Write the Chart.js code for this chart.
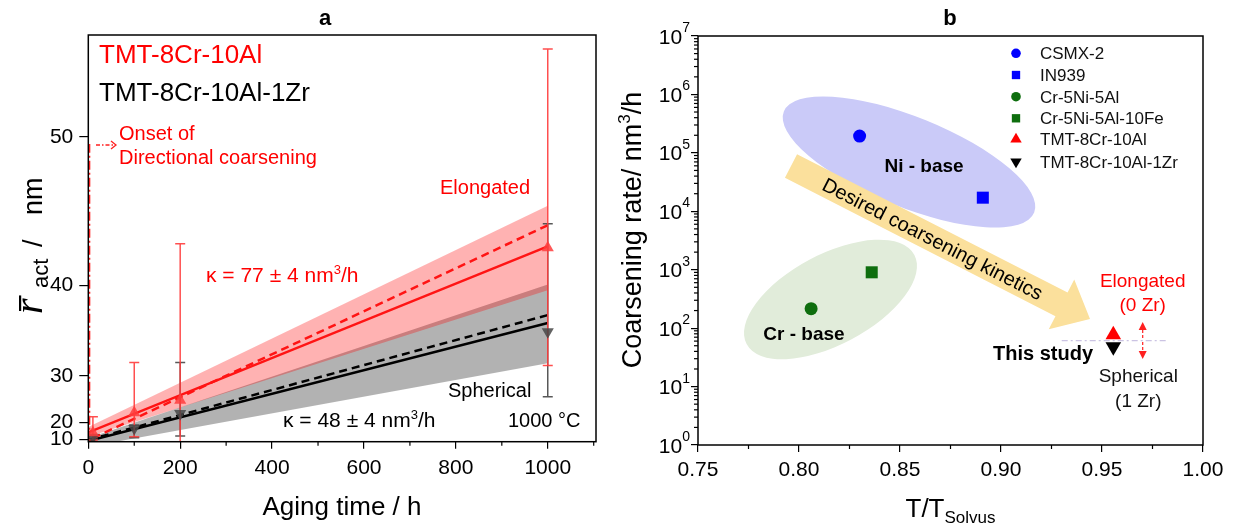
<!DOCTYPE html>
<html>
<head>
<meta charset="utf-8">
<script src="https://cdn.jsdelivr.net/npm/chart.js@4.4.1/dist/chart.umd.min.js"></script>
<style>
  body { margin: 0; background: #fff; }
  #wrap { position: relative; width: 1234px; height: 529px; }
  canvas { position: absolute; top: 0; }
  #left { left: 0; }
  #right { left: 617px; }
</style>
</head>
<body>
<div id="wrap">
  <canvas id="left" width="617" height="529"></canvas>
  <canvas id="right" width="617" height="529"></canvas>
</div>
<script>
// ---- panel a : mean radius vs aging time (axis is linear in r^3) ----
const agingTimes = [10, 100, 200, 1000];
const rAl = [15.4, 22.8, 25.7, 43.0];
const rAlLow = [8.9, 12.7, 0, 31.5];
const rAlHigh = [21.7, 31.9, 43.3, 54.4];
const rZr = [12.2, 17.6, 22.6, 35.6];
const rZrLow = [10.5, 11.8, 13.3, 26.4];
const rZrHigh = [13.5, 19.0, 31.9, 44.7];

const fitTimes = [0, 1000];
const fitAl = [15.6, 43.1];
const fitAlDashTimes = [10, 1000];
const fitAlDash = [11.4, 44.6];
const fitZr = [6.7, 36.5];
const fitZrDash = [8.9, 37.3];
const bandAlUpper = [18.2, 45.9];
const bandAlLower = [12.6, 39.6];
const bandZrUpper = [11.4, 40.1];
const bandZrLowerTimes = [0, 60, 1000];
const bandZrLower = [0, 0, 31.8];
const onsetTime = 2.2;
const onsetTop = 49.6;

const rTicks = [10, 20, 30, 40, 50];
const timeTicks = [0, 200, 400, 600, 800, 1000];
const timeMinor = [100, 300, 500, 700, 900, 1100];

// ---- panel b : coarsening rate vs T/Tsolvus ----
const alloys = ['CSMX-2', 'IN939', 'Cr-5Ni-5Al', 'Cr-5Ni-5Al-10Fe', 'TMT-8Cr-10Al', 'TMT-8Cr-10Al-1Zr'];
const tRatio = [0.830, 0.891, 0.806, 0.836, 0.9556, 0.9556];
const coarseningRate = [1.94e5, 1.71e4, 215, 903, 77, 48];
const ratioTicks = [0.75, 0.80, 0.85, 0.90, 0.95, 1.00];
const ratioMinor = [0.775, 0.825, 0.875, 0.925, 0.975];
const rateDecades = [0, 1, 2, 3, 4, 5, 6, 7];

const alloyLooks = [
  { color: '#0000ff', style: 'circle', radius: 6.5, rotation: 0, legendRadius: 4.8 },
  { color: '#0000ff', style: 'rect', radius: 8.5, rotation: 0, legendRadius: 5.9 },
  { color: '#0e6e0e', style: 'circle', radius: 6.5, rotation: 0, legendRadius: 4.8 },
  { color: '#0e6e0e', style: 'rect', radius: 8.5, rotation: 0, legendRadius: 5.9 },
  { color: '#ff0000', style: 'triangle', radius: 9, rotation: 0, legendRadius: 6.6 },
  { color: '#000000', style: 'triangle', radius: 9, rotation: 180, legendRadius: 6.6 }
];

const SANS = "'Liberation Sans', Arial, sans-serif";
Chart.defaults.font.family = SANS;
Chart.defaults.color = '#000';

const cube = v => v * v * v;
const toPoints = (xs, rs) => xs.map((x, i) => ({ x: x, y: cube(rs[i]) }));
const deg = a => a * Math.PI / 180;

function label(ctx, str, x, y, font, color, align) {
  ctx.font = font;
  ctx.fillStyle = color;
  ctx.textAlign = align || 'left';
  ctx.textBaseline = 'alphabetic';
  ctx.fillText(str, x, y);
}

// text with a superscript in the middle, starting at x
function supText(ctx, before, sup, after, x, y, size, color) {
  ctx.fillStyle = color;
  ctx.textAlign = 'left';
  ctx.textBaseline = 'alphabetic';
  ctx.font = size + 'px ' + SANS;
  ctx.fillText(before, x, y);
  let cx = x + ctx.measureText(before).width;
  ctx.font = Math.round(size * 0.62) + 'px ' + SANS;
  ctx.fillText(sup, cx, y - size * 0.4);
  cx += ctx.measureText(sup).width;
  ctx.font = size + 'px ' + SANS;
  ctx.fillText(after, cx, y);
  return cx + ctx.measureText(after).width - x;
}

function supWidth(ctx, before, sup, after, size) {
  ctx.font = size + 'px ' + SANS;
  let w = ctx.measureText(before).width + ctx.measureText(after).width;
  ctx.font = Math.round(size * 0.62) + 'px ' + SANS;
  return w + ctx.measureText(sup).width;
}

function marker(ctx, style, x, y, r, rotation, color) {
  ctx.save();
  ctx.fillStyle = color;
  ctx.beginPath();
  if (style === 'circle') {
    ctx.arc(x, y, r, 0, Math.PI * 2);
  } else if (style === 'rect') {
    const s = r * Math.SQRT1_2;
    ctx.rect(x - s, y - s, 2 * s, 2 * s);
  } else {
    let a = deg(rotation);
    ctx.moveTo(x + Math.sin(a) * r, y - Math.cos(a) * r);
    a += Math.PI * 2 / 3;
    ctx.lineTo(x + Math.sin(a) * r, y - Math.cos(a) * r);
    a += Math.PI * 2 / 3;
    ctx.lineTo(x + Math.sin(a) * r, y - Math.cos(a) * r);
    ctx.closePath();
  }
  ctx.fill();
  ctx.restore();
}

function drawErrorBars(chart, lows, highs, color) {
  const xs = chart.scales.x, ys = chart.scales.y, ctx = chart.ctx;
  ctx.strokeStyle = color;
  ctx.lineWidth = 1.5;
  agingTimes.forEach((t, i) => {
    const x = xs.getPixelForValue(t);
    const y1 = ys.getPixelForValue(cube(lows[i]));
    const y2 = ys.getPixelForValue(cube(highs[i]));
    ctx.beginPath();
    ctx.moveTo(x, y1); ctx.lineTo(x, y2);
    ctx.moveTo(x - 5, y1); ctx.lineTo(x + 5, y1);
    ctx.moveTo(x - 5, y2); ctx.lineTo(x + 5, y2);
    ctx.stroke();
  });
}

const panelA = {
  id: 'panelA',
  beforeDatasetDraw(chart, args) {
    // error bars go under the markers, over bands and fit lines
    if (chart.data.datasets[args.index].label !== 'TMT-8Cr-10Al-1Zr') return;
    const a = chart.chartArea, ctx = chart.ctx;
    ctx.save();
    ctx.beginPath();
    ctx.rect(a.left, a.top, a.right - a.left, a.bottom - a.top);
    ctx.clip();
    drawErrorBars(chart, rZrLow, rZrHigh, 'rgba(70,70,70,0.9)');
    drawErrorBars(chart, rAlLow, rAlHigh, 'rgba(255,60,60,0.9)');
    ctx.restore();
  },
  afterDraw(chart) {
    const a = chart.chartArea, ctx = chart.ctx;
    const xs = chart.scales.x;
    ctx.save();
    ctx.strokeStyle = '#000';
    ctx.lineWidth = 1.5;
    ctx.strokeRect(a.left, a.top, a.right - a.left, a.bottom - a.top);
    ctx.lineWidth = 1.2;
    timeMinor.forEach(t => {
      const px = xs.getPixelForValue(t);
      ctx.beginPath(); ctx.moveTo(px, a.bottom); ctx.lineTo(px, a.bottom + 4); ctx.stroke();
    });

    label(ctx, 'a', 325, 25, 'bold 22px ' + SANS, '#000', 'center');
    label(ctx, 'TMT-8Cr-10Al', 99, 63, '26px ' + SANS, '#ff0000');
    label(ctx, 'TMT-8Cr-10Al-1Zr', 99, 101, '26px ' + SANS, '#000');
    label(ctx, 'Onset of', 119, 140, '20px ' + SANS, '#ff0000');
    label(ctx, 'Directional coarsening', 119, 164, '20px ' + SANS, '#ff0000');
    label(ctx, 'Elongated', 440, 194, '20px ' + SANS, '#ff0000');
    label(ctx, 'Spherical', 448, 397, '20px ' + SANS, '#000');
    supText(ctx, '\u03ba = 77 \u00b1 4 nm', '3', '/h', 206, 282, 21, '#ff0000');
    supText(ctx, '\u03ba = 48 \u00b1 4 nm', '3', '/h', 283, 427, 21, '#000');
    label(ctx, '1000 \u00b0C', 508, 427, '20px ' + SANS, '#000');

    // dash-dot pointer to the onset line
    ctx.strokeStyle = '#ff2020';
    ctx.lineWidth = 1.3;
    ctx.setLineDash([4, 2, 1.5, 2]);
    ctx.beginPath(); ctx.moveTo(96, 145); ctx.lineTo(115, 145); ctx.stroke();
    ctx.setLineDash([]);
    ctx.beginPath(); ctx.moveTo(111, 141); ctx.lineTo(116, 145); ctx.lineTo(111, 149); ctx.stroke();

    // axis titles
    label(ctx, 'Aging time / h', 342, 515, '26px ' + SANS, '#000', 'center');
    ctx.translate(42, 314);
    ctx.rotate(-Math.PI / 2);
    ctx.fillStyle = '#000';
    ctx.textAlign = 'left';
    ctx.font = "italic 40px 'Liberation Serif', serif";
    ctx.fillText('r', 0, 0);
    const rw = ctx.measureText('r').width;
    ctx.fillRect(3, -23, rw, 2.2);
    ctx.font = '22px ' + SANS;
    ctx.fillText('act', 26, 6);
    ctx.font = '27px ' + SANS;
    ctx.fillText('/', 67, 0);
    ctx.fillText('nm', 99, 0);
    ctx.restore();
  }
};

const edge = { borderWidth: 0, borderColor: 'rgba(0,0,0,0)', pointRadius: 0 };

new Chart(document.getElementById('left'), {
  type: 'line',
  data: {
    datasets: [
      { label: 'TMT-8Cr-10Al', data: toPoints(agingTimes, rAl), showLine: false,
        pointStyle: 'triangle', pointRadius: 7, pointBorderWidth: 0,
        pointBackgroundColor: 'rgba(255,60,60,0.85)', backgroundColor: 'rgba(255,60,60,0.85)', order: 0 },
      { label: 'TMT-8Cr-10Al-1Zr', data: toPoints(agingTimes, rZr), showLine: false,
        pointStyle: 'triangle', pointRotation: 180, pointRadius: 7, pointBorderWidth: 0,
        pointBackgroundColor: 'rgba(70,70,70,0.85)', backgroundColor: 'rgba(70,70,70,0.85)', order: 0 },
      { label: 'fit Al', data: toPoints(fitTimes, fitAl), borderColor: '#ff1414', borderWidth: 2.5, pointRadius: 0, order: 1 },
      { label: 'fit Al dashed', data: toPoints(fitAlDashTimes, fitAlDash), borderColor: '#ff1414', borderWidth: 2.5,
        borderDash: [8, 5], pointRadius: 0, order: 1 },
      { label: 'fit Zr', data: toPoints(fitTimes, fitZr), borderColor: '#000', borderWidth: 2.5, pointRadius: 0, order: 1 },
      { label: 'fit Zr dashed', data: toPoints(fitTimes, fitZrDash), borderColor: '#000', borderWidth: 2.5,
        borderDash: [8, 5], pointRadius: 0, order: 1 },
      { label: 'onset', data: [{ x: onsetTime, y: 0 }, { x: onsetTime, y: cube(onsetTop) }],
        borderColor: '#ff2020', borderWidth: 2, borderDash: [9, 3, 2, 3], pointRadius: 0, order: 1 },
      Object.assign({ label: 'band Al', data: toPoints(fitTimes, bandAlUpper), fill: '+1',
        backgroundColor: 'rgba(255,0,0,0.3)', order: 2 }, edge),
      Object.assign({ label: 'band Al low', data: toPoints(fitTimes, bandAlLower), fill: false, order: 2 }, edge),
      Object.assign({ label: 'band Zr', data: toPoints(fitTimes, bandZrUpper), fill: '+1',
        backgroundColor: 'rgba(0,0,0,0.3)', order: 3 }, edge),
      Object.assign({ label: 'band Zr low', data: toPoints(bandZrLowerTimes, bandZrLower), fill: false, order: 3 }, edge)
    ]
  },
  options: {
    responsive: false,
    animation: false,
    events: [],
    layout: { padding: { left: 0, top: 35, right: 21, bottom: 0 } },
    plugins: { legend: { display: false }, tooltip: { enabled: false }, title: { display: false } },
    scales: {
      x: {
        type: 'linear', min: 0, max: 1105,
        afterBuildTicks: s => { s.ticks = timeTicks.map(v => ({ value: v })); },
        afterFit: s => { s.height = 87.3; },
        grid: { display: true, drawOnChartArea: false, drawTicks: true, tickLength: 7, color: '#000', lineWidth: 1.2 },
        border: { display: false },
        ticks: { font: { size: 21 }, color: '#000', padding: 7, maxRotation: 0, autoSkip: false,
          callback: v => String(v) }
      },
      y: {
        type: 'linear', min: 0, max: 166700,
        afterBuildTicks: s => { s.ticks = rTicks.map(v => ({ value: cube(v) })); },
        afterFit: s => { s.width = 88.3; },
        grid: { display: true, drawOnChartArea: false, drawTicks: true, tickLength: 9, color: '#000', lineWidth: 1.2 },
        border: { display: false },
        ticks: { font: { size: 21 }, color: '#000', padding: 6, autoSkip: false,
          callback: v => String(Math.round(Math.cbrt(v))) }
      }
    }
  },
  plugins: [panelA]
});

const panelB = {
  id: 'panelB',
  beforeDatasetsDraw(chart) {
    const ctx = chart.ctx;
    ctx.save();
    // Ni-base and Cr-base groups
    ctx.fillStyle = '#cacaf8';
    ctx.beginPath(); ctx.ellipse(292, 162, 135, 45, deg(22), 0, Math.PI * 2); ctx.fill();
    ctx.fillStyle = '#e1ecda';
    ctx.beginPath(); ctx.ellipse(213.5, 299.5, 95, 45, deg(-28), 0, Math.PI * 2); ctx.fill();

    // desired coarsening kinetics arrow
    const sx = 174, sy = 166, tx = 473, ty = 319;
    const len = Math.hypot(tx - sx, ty - sy);
    const ux = (tx - sx) / len, uy = (ty - sy) / len, nx = -uy, ny = ux;
    const hw = 13.3, hh = 28, hl = 32;
    const bx = tx - ux * hl, by = ty - uy * hl;
    ctx.fillStyle = '#fbe09c';
    ctx.beginPath();
    ctx.moveTo(sx + nx * hw, sy + ny * hw);
    ctx.lineTo(bx + nx * hw, by + ny * hw);
    ctx.lineTo(bx + nx * hh, by + ny * hh);
    ctx.lineTo(tx, ty);
    ctx.lineTo(bx - nx * hh, by - ny * hh);
    ctx.lineTo(bx - nx * hw, by - ny * hw);
    ctx.lineTo(sx - nx * hw, sy - ny * hw);
    ctx.closePath();
    ctx.fill();
    ctx.save();
    ctx.translate(315, 240);
    ctx.rotate(Math.atan2(ty - sy, tx - sx));
    ctx.font = '20px ' + SANS;
    ctx.fillStyle = '#000';
    ctx.textAlign = 'center';
    ctx.textBaseline = 'middle';
    ctx.fillText('Desired coarsening kinetics', 0, 0);
    ctx.restore();

    // reference line through this study
    ctx.strokeStyle = '#cbc3e3';
    ctx.lineWidth = 1.2;
    ctx.setLineDash([6, 3, 2, 3]);
    ctx.beginPath(); ctx.moveTo(444.7, 340.7); ctx.lineTo(549.7, 340.7); ctx.stroke();

    // small red arrows
    ctx.strokeStyle = '#ff2020';
    ctx.setLineDash([3, 2]);
    ctx.beginPath();
    ctx.moveTo(525.7, 338); ctx.lineTo(525.7, 328);
    ctx.moveTo(525.7, 342); ctx.lineTo(525.7, 353);
    ctx.stroke();
    ctx.setLineDash([]);
    ctx.fillStyle = '#ff2020';
    ctx.beginPath(); ctx.moveTo(525.7, 322); ctx.lineTo(521.7, 330); ctx.lineTo(529.7, 330); ctx.closePath(); ctx.fill();
    ctx.beginPath(); ctx.moveTo(525.7, 359); ctx.lineTo(521.7, 351); ctx.lineTo(529.7, 351); ctx.closePath(); ctx.fill();
    ctx.restore();
  },
  afterDraw(chart) {
    const a = chart.chartArea, ctx = chart.ctx;
    const xs = chart.scales.x, ys = chart.scales.y;
    ctx.save();
    ctx.strokeStyle = '#000';
    ctx.lineWidth = 1.5;
    ctx.strokeRect(a.left, a.top, a.right - a.left, a.bottom - a.top);

    // minor ticks
    ctx.lineWidth = 1.2;
    ratioMinor.forEach(v => {
      const px = xs.getPixelForValue(v);
      ctx.beginPath(); ctx.moveTo(px, a.bottom); ctx.lineTo(px, a.bottom + 4); ctx.stroke();
    });
    for (let n = 0; n < 7; n++) {
      for (let m = 2; m <= 9; m++) {
        const py = ys.getPixelForValue(m * Math.pow(10, n));
        ctx.beginPath(); ctx.moveTo(a.left, py); ctx.lineTo(a.left - 4, py); ctx.stroke();
      }
    }

    // y tick labels 10^n
    ctx.fillStyle = '#000';
    ctx.textAlign = 'right';
    ctx.textBaseline = 'alphabetic';
    rateDecades.forEach(n => {
      const py = ys.getPixelForValue(Math.pow(10, n));
      const right = a.left - 8;
      ctx.font = '14px ' + SANS;
      const w = ctx.measureText(String(n)).width;
      ctx.fillText(String(n), right, py - 4);
      ctx.font = '21px ' + SANS;
      ctx.fillText('10', right - w, py + 7.5);
    });

    // texts
    label(ctx, 'b', 333, 25, 'bold 22px ' + SANS, '#000', 'center');
    label(ctx, 'Ni - base', 307, 172, 'bold 19px ' + SANS, '#000', 'center');
    label(ctx, 'Cr - base', 187, 340, 'bold 19px ' + SANS, '#000', 'center');
    label(ctx, 'This study', 476, 360, 'bold 20px ' + SANS, '#000', 'right');
    label(ctx, 'Elongated', 525.7, 287, '19px ' + SANS, '#ff0000', 'center');
    label(ctx, '(0 Zr)', 525.7, 311, '19px ' + SANS, '#ff0000', 'center');
    label(ctx, 'Spherical', 521.3, 382, '19px ' + SANS, '#111', 'center');
    label(ctx, '(1 Zr)', 521.3, 407, '19px ' + SANS, '#111', 'center');

    // legend
    const rows = [53.3, 75, 96.7, 118.3, 139.3, 161.7];
    alloys.forEach((name, i) => {
      const lk = alloyLooks[i];
      marker(ctx, lk.style, 399, rows[i], lk.legendRadius, lk.rotation, lk.color);
      label(ctx, name, 423, rows[i] + 6, '17px ' + SANS, '#111');
    });

    // axis titles
    ctx.font = '26px ' + SANS;
    const tw = ctx.measureText('T/T').width;
    ctx.font = '17px ' + SANS;
    const sw = ctx.measureText('Solvus').width;
    const x0 = 333.5 - (tw + sw) / 2;
    label(ctx, 'T/T', x0, 516.5, '26px ' + SANS, '#000');
    label(ctx, 'Solvus', x0 + tw, 523, '17px ' + SANS, '#000');

    ctx.translate(24, 230);
    ctx.rotate(-Math.PI / 2);
    const titleW = supWidth(ctx, 'Coarsening rate/ nm', '3', '/h', 27);
    supText(ctx, 'Coarsening rate/ nm', '3', '/h', -titleW / 2, 0, 27, '#000');
    ctx.restore();
  }
};

new Chart(document.getElementById('right'), {
  type: 'scatter',
  data: {
    datasets: alloys.map((name, i) => ({
      label: name,
      data: [{ x: tRatio[i], y: coarseningRate[i] }],
      pointStyle: alloyLooks[i].style,
      pointRadius: alloyLooks[i].radius,
      pointRotation: alloyLooks[i].rotation,
      backgroundColor: alloyLooks[i].color,
      borderColor: alloyLooks[i].color,
      pointBorderWidth: 0
    }))
  },
  options: {
    responsive: false,
    animation: false,
    events: [],
    layout: { padding: { left: 0, top: 36, right: 31, bottom: 0 } },
    plugins: { legend: { display: false }, tooltip: { enabled: false }, title: { display: false } },
    scales: {
      x: {
        type: 'linear', min: 0.75, max: 1.0,
        afterBuildTicks: s => { s.ticks = ratioTicks.map(v => ({ value: v })); },
        afterFit: s => { s.height = 84; },
        grid: { display: true, drawOnChartArea: false, drawTicks: true, tickLength: 7, color: '#000', lineWidth: 1.2 },
        border: { display: false },
        ticks: { font: { size: 21 }, color: '#000', padding: 6, maxRotation: 0, autoSkip: false,
          callback: v => Number(v).toFixed(2) }
      },
      y: {
        type: 'logarithmic', min: 1, max: 1e7,
        afterBuildTicks: s => { s.ticks = rateDecades.map(n => ({ value: Math.pow(10, n) })); },
        afterFit: s => { s.width = 81; },
        grid: { display: true, drawOnChartArea: false, drawTicks: true, tickLength: 7, color: '#000', lineWidth: 1.2 },
        border: { display: false },
        ticks: { display: false }
      }
    }
  },
  plugins: [panelB]
});
</script>
</body>
</html>
